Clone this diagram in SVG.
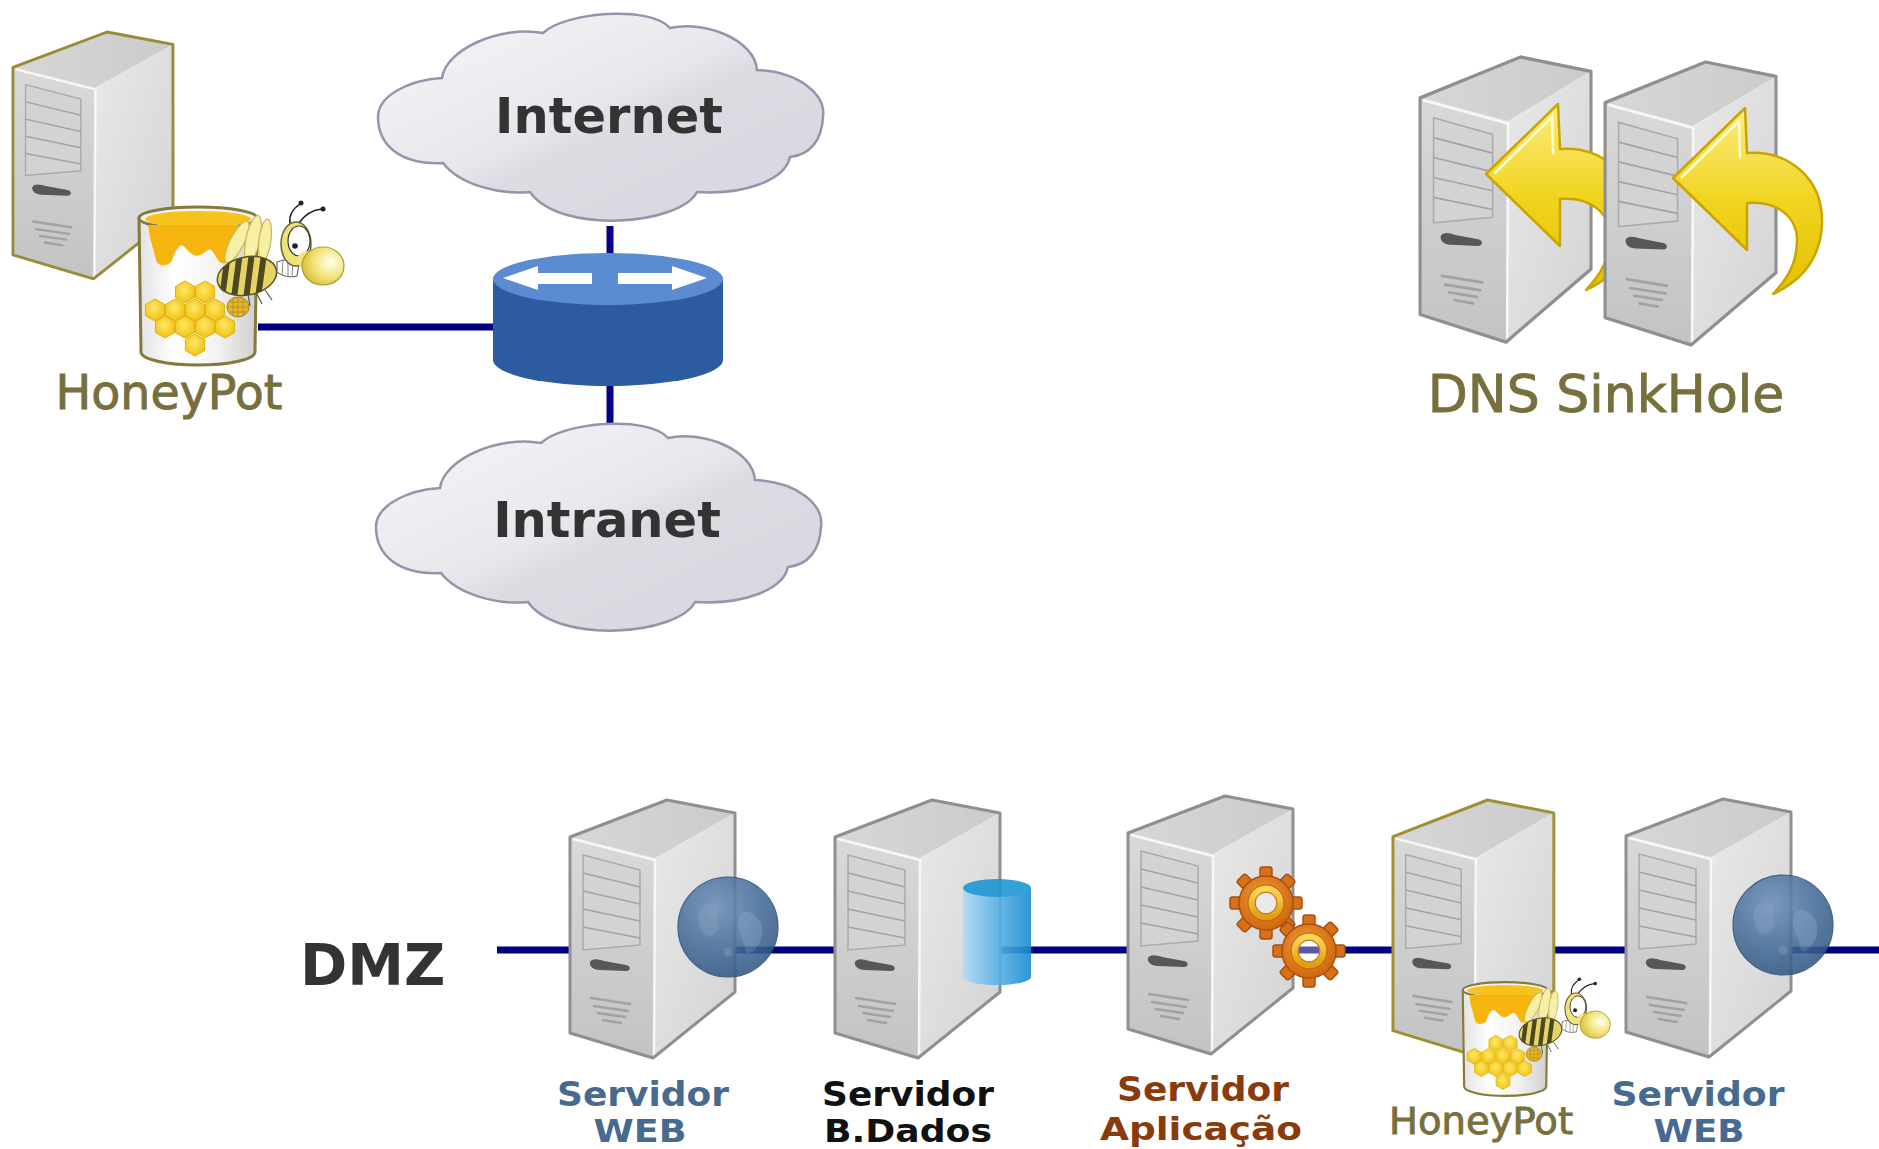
<svg xmlns="http://www.w3.org/2000/svg" width="1879" height="1149" viewBox="0 0 1879 1149">
<style>
  .lbl { font-family: "DejaVu Sans", Verdana, sans-serif; }
  .bold { font-weight: bold; }
  .olive { fill: #77703e; stroke: #77703e; stroke-width: 0.9; }
  .web { fill: #476a90; }
  .db { fill: #111111; }
  .app { fill: #8a3b0c; }
  .dark { fill: #333333; }
  .wire { stroke: #000080; stroke-width: 7; fill: none; }
</style>
<defs>
  <!-- tower server -->
  <linearGradient id="tw-front" x1="0" y1="0" x2="0" y2="1">
    <stop offset="0" stop-color="#d9d9d9"/><stop offset="1" stop-color="#c3c3c3"/>
  </linearGradient>
  <linearGradient id="tw-side" x1="0" y1="0" x2="1" y2="1">
    <stop offset="0" stop-color="#e9e9e9"/><stop offset="1" stop-color="#d3d3d3"/>
  </linearGradient>
  <linearGradient id="tw-top" x1="0" y1="0" x2="1" y2="0">
    <stop offset="0" stop-color="#d7d7d7"/><stop offset="1" stop-color="#cbcbcb"/>
  </linearGradient>
  <g id="tower">
    <path stroke="none" fill="url(#tw-front)" d="M2,37 L87,58 L85,258 L2,233 Z"/>
    <path stroke="none" fill="url(#tw-side)" d="M87,58 L167,13 L167,192 L85,258 Z"/>
    <path stroke="none" fill="url(#tw-top)" d="M2,37 L99,0 L167,13 L87,58 Z"/>
    <path fill="none" stroke="#f7f7f7" stroke-width="2.5" d="M5,39 L87,60 L86,255"/>
    <path fill="#d3d3d3" stroke="#ababab" stroke-width="1.5" d="M15,55 L72,70 L72,145 L15,150 Z"/>
    <path fill="none" stroke="#a3a3a3" stroke-width="1.5" d="M15,73 L72,87 M15,91 L72,104 M15,109 L72,121 M15,127 L72,138"/>
    <path fill="#575757" stroke="none" d="M22,162 C24,158 30,159 36,161 L58,165 C63,166 63,171 58,171 L32,170 C25,170 21,166 22,162 Z"/>
    <path fill="none" stroke="#a2a2a2" stroke-width="2.5" stroke-linecap="round" d="M23,198 L62,204 M26,206 L60,211 M30,213 L57,217 M35,220 L53,223"/>
    <path fill="none" stroke-width="3" stroke-linejoin="round" d="M2,37 L99,0 L167,13 L167,192 L85,258 L2,233 Z"/>
  </g>

  <!-- cloud -->
  <linearGradient id="cloud-g" x1="0" y1="0" x2="1" y2="1">
    <stop offset="0" stop-color="#f8f8fa"/><stop offset="0.47" stop-color="#e6e6ec"/>
    <stop offset="0.54" stop-color="#dcdce3"/><stop offset="1" stop-color="#d6d6df"/>
  </linearGradient>
  <path id="cloud" fill="url(#cloud-g)" stroke="#9494aa" stroke-width="2.5" d="M378,117 C378,95 410,80 442,78 C445,50 500,25 543,33 C565,12 650,5 670,28 C705,20 755,40 757,70 C800,72 826,95 823,117 C822,140 810,155 790,157 C785,180 745,195 697,192 C680,225 560,235 530,192 C500,195 460,185 443,163 C400,165 378,145 378,117 Z"/>

  <!-- globe -->
  <radialGradient id="globe-g" cx="0.38" cy="0.3" r="0.8">
    <stop offset="0" stop-color="#6f90b8"/><stop offset="0.55" stop-color="#466d99"/><stop offset="1" stop-color="#2e5480"/>
  </radialGradient>
  <g id="globe">
    <circle r="50" fill="url(#globe-g)" stroke="#2b4e72" stroke-width="1.2"/>
    <path fill="#7f9dc2" opacity="0.38" d="M-26,-20 C-18,-26 -8,-22 -10,-12 C-12,-4 -6,0 -12,6 C-18,12 -26,8 -28,0 C-30,-8 -30,-16 -26,-20 Z M14,-14 C22,-18 32,-10 34,0 C36,10 30,22 22,26 C16,28 18,18 14,12 C10,4 8,-8 14,-14 Z M-4,22 C0,18 6,22 4,28 C0,32 -6,28 -4,22 Z"/>
  </g>

  <!-- gear -->
  <radialGradient id="gear-g" cx="0.45" cy="0.4" r="0.6">
    <stop offset="0" stop-color="#f7a23a"/><stop offset="1" stop-color="#d0680f"/>
  </radialGradient>
  <linearGradient id="ring-g" x1="0" y1="0" x2="0" y2="1">
    <stop offset="0" stop-color="#ffd85a"/><stop offset="1" stop-color="#e29a10"/>
  </linearGradient>
  <rect id="tooth" x="-6" y="-36" width="12" height="15" rx="2.5"/>
  <g id="gear">
    <g fill="#d8701a" stroke="#a6500e" stroke-width="1.5">
      <use href="#tooth"/><use href="#tooth" transform="rotate(45)"/>
      <use href="#tooth" transform="rotate(90)"/><use href="#tooth" transform="rotate(135)"/>
      <use href="#tooth" transform="rotate(180)"/><use href="#tooth" transform="rotate(225)"/>
      <use href="#tooth" transform="rotate(270)"/><use href="#tooth" transform="rotate(315)"/>
      <path fill-rule="evenodd" d="M-27,0 A27,27 0 1,0 27,0 A27,27 0 1,0 -27,0 Z M-11,0 A11,11 0 1,1 11,0 A11,11 0 1,1 -11,0 Z"/>
    </g>
    <path fill="url(#gear-g)" fill-rule="evenodd" d="M-26,0 A26,26 0 1,0 26,0 A26,26 0 1,0 -26,0 Z M-11,0 A11,11 0 1,1 11,0 A11,11 0 1,1 -11,0 Z"/>
    <circle r="14.5" fill="none" stroke="url(#ring-g)" stroke-width="7"/>
    <circle r="18" fill="none" stroke="#b85c10" stroke-width="1"/>
    <circle r="11" fill="#ffffff" fill-opacity="0.35" stroke="#c07a10" stroke-width="1"/>
  </g>

  <!-- database cylinder -->
  <linearGradient id="cyl-g" x1="0" y1="0" x2="1" y2="0">
    <stop offset="0" stop-color="#b3dbf7"/><stop offset="0.5" stop-color="#5ab2e6"/><stop offset="1" stop-color="#1a8bcf"/>
  </linearGradient>

  <!-- curved DNS arrow -->
  <linearGradient id="arr-g" x1="0" y1="0" x2="0" y2="1">
    <stop offset="0" stop-color="#fcec80"/><stop offset="0.5" stop-color="#f1d420"/><stop offset="1" stop-color="#e3c000"/>
  </linearGradient>
  <g id="dns-arrow">
    <path fill="url(#arr-g)" stroke="#c9a500" stroke-width="2.5" stroke-linejoin="round" d="M0,0 L72,-70 L74,-25 C115,-28 150,0 149,45 C148,80 130,102 100,116 C115,100 124,85 124,62 C124,40 105,22 74,25 L74,72 Z"/>
    <path fill="none" stroke="#fffbd2" stroke-width="2.5" stroke-linecap="round" d="M9,-1 L66,-57 L67,-21"/>
  </g>

  <!-- honey pot with bee -->
  <linearGradient id="jar-g" x1="0" y1="0" x2="1" y2="0">
    <stop offset="0" stop-color="#e2e2e2"/><stop offset="0.3" stop-color="#ffffff"/>
    <stop offset="0.65" stop-color="#f3f3f3"/><stop offset="1" stop-color="#cfcfcf"/>
  </linearGradient>
  <radialGradient id="hex-g" cx="0.45" cy="0.4" r="0.6">
    <stop offset="0" stop-color="#ffe867"/><stop offset="1" stop-color="#f1c314"/>
  </radialGradient>
  <radialGradient id="nose-g" cx="0.68" cy="0.4" r="0.7">
    <stop offset="0" stop-color="#fffff2"/><stop offset="0.55" stop-color="#f4e57c"/><stop offset="1" stop-color="#d9bf38"/>
  </radialGradient>
  <path id="hex" d="M0,-11 L9.6,-5.5 L9.6,5.5 L0,11 L-9.6,5.5 L-9.6,-5.5 Z"/>
  <clipPath id="bee-body-clip">
    <ellipse cx="109" cy="72" rx="30" ry="19" transform="rotate(-12 109 72)"/>
  </clipPath>
  <g id="honeypot">
    <path fill="url(#jar-g)" stroke="#857a3c" stroke-width="3" stroke-linejoin="round" d="M1,14 L3,148 A57,13 0 0 0 117,148 L119,14 Z"/>
    <ellipse cx="60" cy="14" rx="59" ry="11" fill="#f3f3f3" stroke="#857a3c" stroke-width="3"/>
    <ellipse cx="60" cy="15" rx="53" ry="8" fill="#f8c21c"/>
    <path fill="#f5b50e" d="M10,21 L108,21 C106,35 100,45 96,52 C92,60 84,62 80,56 C76,50 74,44 70,46 C64,50 60,54 54,50 C48,46 46,40 42,42 C38,46 36,50 34,56 C32,62 20,64 18,56 C16,48 14,40 12,34 Z"/>
    <g fill="url(#hex-g)" stroke="#e2b00a" stroke-width="1">
      <use href="#hex" x="47" y="88"/><use href="#hex" x="67" y="88"/>
      <use href="#hex" x="17" y="106"/><use href="#hex" x="37" y="106"/><use href="#hex" x="57" y="106"/><use href="#hex" x="77" y="106"/>
      <use href="#hex" x="27" y="123"/><use href="#hex" x="47" y="123"/><use href="#hex" x="67" y="123"/><use href="#hex" x="87" y="123"/>
      <use href="#hex" x="57" y="141"/>
    </g>
    <!-- bee -->
    <g fill="#f7efa6" stroke="#c9b55a" stroke-width="1.2">
      <ellipse cx="99" cy="38" rx="7" ry="23" transform="rotate(27 99 38)"/>
      <ellipse cx="115" cy="35" rx="7" ry="24" transform="rotate(12 115 35)"/>
      <ellipse cx="127" cy="36" rx="6" ry="21" transform="rotate(7 127 36)"/>
    </g>
    <path fill="none" stroke="#555" stroke-width="1.2" d="M118,88 L124,100 M127,86 L134,96 M110,90 L112,102"/>
    <ellipse cx="100" cy="103" rx="11" ry="10" fill="#e4b62c" stroke="#a88020" stroke-width="1"/>
    <path fill="none" stroke="#b08a20" stroke-width="0.8" d="M92,98 L108,98 M90,103 L110,103 M92,108 L108,108 M95,94 L95,112 M100,93 L100,113 M105,94 L105,112"/>
    <ellipse cx="109" cy="72" rx="30" ry="19" transform="rotate(-12 109 72)" fill="#e6d466"/>
    <path clip-path="url(#bee-body-clip)" fill="none" stroke="#4d4820" stroke-width="6" d="M90,50 L84,94 M102,48 L96,94 M114,48 L108,96 M126,50 L120,94"/>
    <ellipse cx="109" cy="72" rx="30" ry="19" transform="rotate(-12 109 72)" fill="none" stroke="#5a5426" stroke-width="1.5"/>
    <path fill="#ffffff" stroke="#555" stroke-width="1" d="M139,58 Q150,53 161,59 L159,72 Q148,75 139,68 Z"/>
    <path fill="none" stroke="#777" stroke-width="0.9" d="M145,56 L144,71 M150,56 L150,73 M155,57 L154,72"/>
    <path fill="none" stroke="#222" stroke-width="1.5" d="M152,20 Q150,8 162,0 M160,20 Q170,6 184,5"/>
    <circle cx="163" cy="-1" r="2.5" fill="#222"/><circle cx="185" cy="5" r="2.5" fill="#222"/>
    <ellipse cx="158" cy="40" rx="15" ry="22" fill="#f0e27a" stroke="#6a6030" stroke-width="1.5"/>
    <ellipse cx="161" cy="37" rx="11" ry="15" fill="#ffffff" stroke="#333" stroke-width="1.2"/>
    <circle cx="157" cy="42" r="2.8" fill="#222"/>
    <ellipse cx="170" cy="56" rx="11" ry="9" fill="#f2e37a"/>
    <ellipse cx="185" cy="62" rx="21" ry="19" fill="url(#nose-g)" stroke="#a89a3a" stroke-width="1.2"/>
  </g>
</defs>

<!-- connectors -->
<g id="connectors">
  <path class="wire" d="M258,327 L493,327"/>
  <path class="wire" d="M610,226 L610,258"/>
  <path class="wire" d="M610,380 L610,426"/>
  <path class="wire" d="M497,950 L1879,950"/>
</g>

<!-- upper network -->
<g id="node-honeypot-top">
  <use href="#tower" stroke="#9a8b38" transform="translate(11,32) scale(0.97,0.957)"/>
  <use href="#honeypot" transform="translate(138,204)"/>
  <text class="lbl olive" x="169" y="409" font-size="47.5" text-anchor="middle">HoneyPot</text>
</g>

<g id="node-internet">
  <use href="#cloud"/>
  <text class="lbl bold dark" x="609" y="133" font-size="49.5" text-anchor="middle">Internet</text>
</g>

<g id="node-router">
  <path fill="#2c5ba0" d="M493,279 L493,360 A115,26 0 0 0 723,360 L723,279 Z"/>
  <ellipse cx="608" cy="279" rx="115" ry="26" fill="#5b8bd1"/>
  <path fill="#ffffff" d="M503,278 L538,266 L538,273 L592,273 L592,284 L538,284 L538,290 Z"/>
  <path fill="#ffffff" d="M707,278 L672,266 L672,273 L618,273 L618,284 L672,284 L672,290 Z"/>
</g>

<g id="node-intranet">
  <use href="#cloud" transform="translate(-2,410)"/>
  <text class="lbl bold dark" x="607" y="537" font-size="49.5" text-anchor="middle">Intranet</text>
</g>

<g id="node-dns-sinkhole">
  <use href="#tower" stroke="#8f8f8f" transform="translate(1418,57) scale(1.036,1.105)"/>
  <use href="#dns-arrow" transform="translate(1486,174)"/>
  <use href="#tower" stroke="#8f8f8f" transform="translate(1603,62) scale(1.036,1.097)"/>
  <use href="#dns-arrow" transform="translate(1673,178)"/>
  <text class="lbl olive" x="1606" y="412" font-size="52" text-anchor="middle">DNS SinkHole</text>
</g>

<!-- DMZ segment -->
<g id="label-dmz">
  <text class="lbl bold dark" x="300" y="985" font-size="57">DMZ</text>
</g>

<g id="node-web-1">
  <use href="#tower" stroke="#8f8f8f" transform="translate(568,800)"/>
  <use href="#globe" opacity="0.88" transform="translate(728,927)"/>
  <text class="lbl bold web" x="643" y="1106" font-size="33" text-anchor="middle" textLength="172" lengthAdjust="spacingAndGlyphs">Servidor</text>
  <text class="lbl bold web" x="640" y="1142" font-size="32" text-anchor="middle" textLength="93" lengthAdjust="spacingAndGlyphs">WEB</text>
</g>

<g id="node-db">
  <use href="#tower" stroke="#8f8f8f" transform="translate(833,800)"/>
  <g opacity="0.9">
    <path fill="url(#cyl-g)" d="M963,888 L963,977 A34,8 0 0 0 1031,977 L1031,888 Z"/>
    <ellipse cx="997" cy="888" rx="34" ry="9" fill="#1e96d4"/>
  </g>
  <text class="lbl bold db" x="908" y="1106" font-size="33" text-anchor="middle" textLength="172" lengthAdjust="spacingAndGlyphs">Servidor</text>
  <text class="lbl bold db" x="908" y="1142" font-size="32" text-anchor="middle" textLength="168" lengthAdjust="spacingAndGlyphs">B.Dados</text>
</g>

<g id="node-app">
  <use href="#tower" stroke="#8f8f8f" transform="translate(1126,796)"/>
  <use href="#gear" transform="translate(1266,903)"/>
  <use href="#gear" transform="translate(1309,951)"/>
  <text class="lbl bold app" x="1203" y="1101" font-size="33" text-anchor="middle" textLength="172" lengthAdjust="spacingAndGlyphs">Servidor</text>
  <text class="lbl bold app" x="1201" y="1140" font-size="32" text-anchor="middle" textLength="202" lengthAdjust="spacingAndGlyphs">Aplicação</text>
</g>

<g id="node-honeypot-dmz">
  <use href="#tower" stroke="#a09032" transform="translate(1391,800) scale(0.975,0.99)"/>
  <use href="#honeypot" transform="translate(1462,980) scale(0.72)"/>
  <text class="lbl olive" x="1481" y="1134" font-size="37" text-anchor="middle" textLength="184" lengthAdjust="spacingAndGlyphs">HoneyPot</text>
</g>

<g id="node-web-2">
  <use href="#tower" stroke="#8f8f8f" transform="translate(1624,799)"/>
  <use href="#globe" opacity="0.88" transform="translate(1783,925)"/>
  <text class="lbl bold web" x="1698" y="1106" font-size="33" text-anchor="middle" textLength="173" lengthAdjust="spacingAndGlyphs">Servidor</text>
  <text class="lbl bold web" x="1699" y="1142" font-size="32" text-anchor="middle" textLength="91" lengthAdjust="spacingAndGlyphs">WEB</text>
</g>
</svg>
